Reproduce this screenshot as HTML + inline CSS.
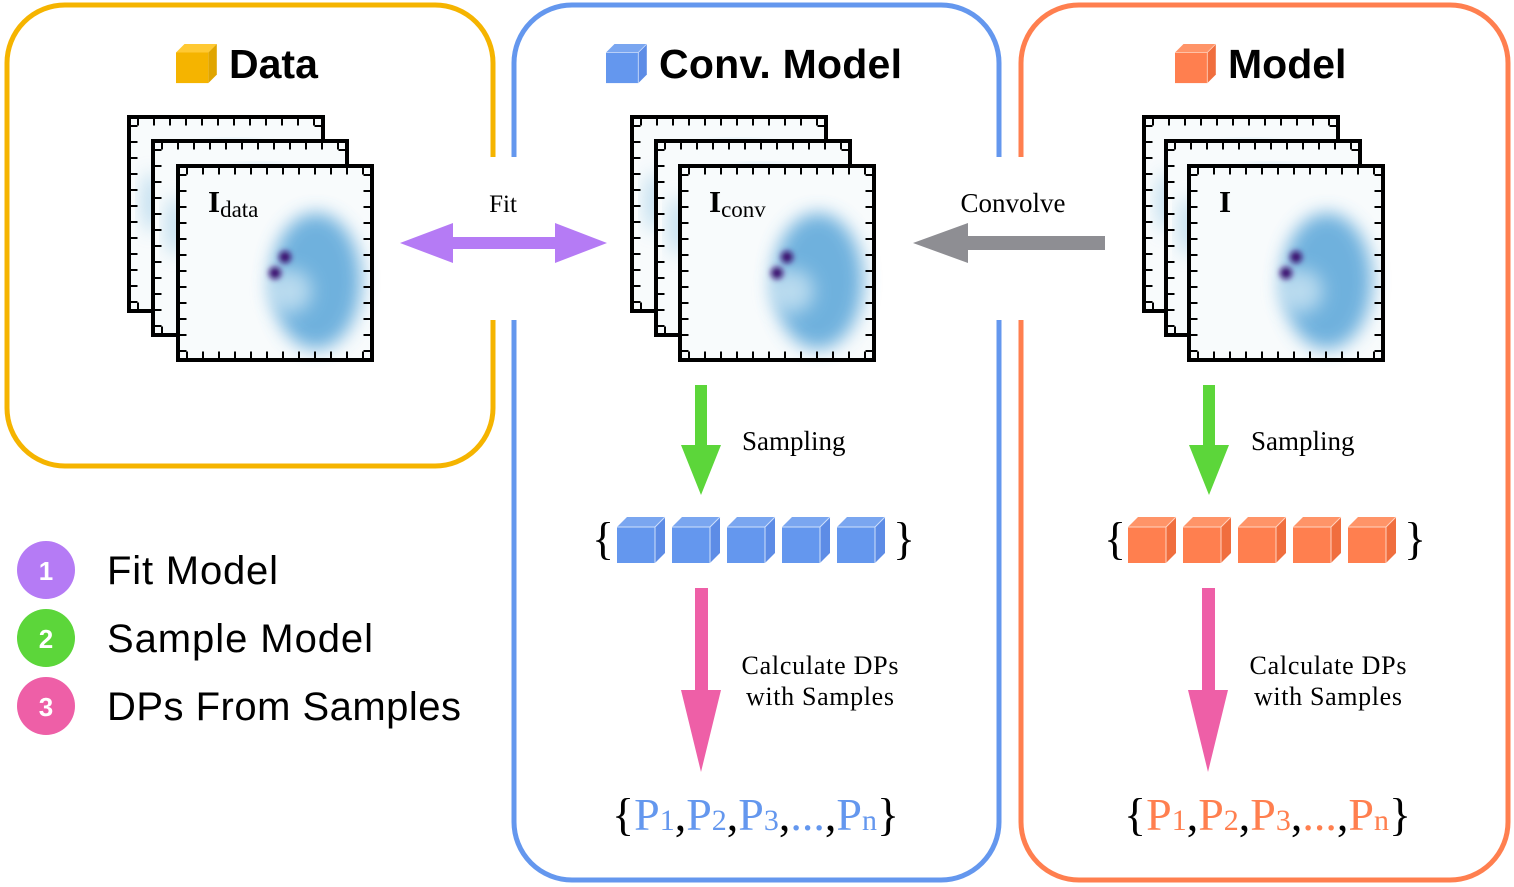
<!DOCTYPE html>
<html><head><meta charset="utf-8"><style>
body{margin:0;background:#fff}
svg{display:block}
.s{font-family:"Liberation Serif",serif}
.a{font-family:"Liberation Sans",sans-serif}
</style></head><body>
<svg width="1514" height="887" viewBox="0 0 1514 887" xmlns="http://www.w3.org/2000/svg">
<defs>
<filter id="bl" x="-50%" y="-50%" width="200%" height="200%"><feGaussianBlur stdDeviation="9"/></filter>
<filter id="bl2" x="-50%" y="-50%" width="200%" height="200%"><feGaussianBlur stdDeviation="3"/></filter>
<g id="ticks">
<rect x="0" y="0" width="194" height="194" fill="none" stroke="#000" stroke-width="4"/>
<line x1="8" y1="5" x2="194" y2="5" stroke="#000" stroke-width="7" stroke-dasharray="2 14"/>
<line x1="8" y1="189" x2="194" y2="189" stroke="#000" stroke-width="7" stroke-dasharray="2 14"/>
<line x1="5" y1="8" x2="5" y2="194" stroke="#000" stroke-width="7" stroke-dasharray="2 14"/>
<line x1="189" y1="8" x2="189" y2="194" stroke="#000" stroke-width="7" stroke-dasharray="2 14"/>
</g>
<g id="back">
<rect x="0" y="0" width="194" height="194" fill="#f8fbfc"/>
<ellipse cx="105" cy="40" rx="30" ry="10" fill="#8cc3e3" opacity="0.6" filter="url(#bl)"/>
<ellipse cx="22" cy="85" rx="8" ry="30" fill="#8cc3e3" opacity="0.6" filter="url(#bl)"/>
<use href="#ticks"/>
</g>
<g id="front">
<rect x="0" y="0" width="194" height="194" fill="#f8fbfc"/>
<ellipse cx="138" cy="115" rx="45" ry="68" fill="#4d9fd6" opacity="0.8" filter="url(#bl)"/>
<ellipse cx="112" cy="125" rx="22" ry="22" fill="#d8ecf6" opacity="0.7" filter="url(#bl)"/>
<circle cx="107" cy="91" r="6" fill="#3a0d6e" filter="url(#bl2)"/>
<circle cx="97" cy="107" r="6" fill="#3a0d6e" filter="url(#bl2)"/>
<use href="#ticks"/>
</g>
<g id="cb"><polygon points="0,10 10,0 48,0 38,10" fill="#7aa6f0"/><polygon points="38,10 48,0 48,36 38,46" fill="#5d8ce6"/><rect x="0" y="10" width="38" height="36" fill="#6497ee"/><path d="M0,10 L38,10 L38,46 M38,10 L48,0" stroke="#cfe0fb" stroke-width="1" fill="none"/></g>
<g id="co"><polygon points="0,10 10,0 48,0 38,10" fill="#ff9468"/><polygon points="38,10 48,0 48,36 38,46" fill="#f06e3e"/><rect x="0" y="10" width="38" height="36" fill="#ff7f4f"/><path d="M0,10 L38,10 L38,46 M38,10 L48,0" stroke="#ffd3c0" stroke-width="1" fill="none"/></g>
</defs>

<path d="M493,157 V63 A58,58 0 0 0 435,5 H65 A58,58 0 0 0 7,63 V408 A58,58 0 0 0 65,466 H435 A58,58 0 0 0 493,408 V320" fill="none" stroke="#f5b400" stroke-width="5"/>
<path d="M514,157 V63 A58,58 0 0 1 572,5 H941 A58,58 0 0 1 999,63 V157 M999,320 V822 A58,58 0 0 1 941,880 H572 A58,58 0 0 1 514,822 V320" fill="none" stroke="#6497ee" stroke-width="5"/>
<path d="M1021,157 V63 A58,58 0 0 1 1079,5 H1450 A58,58 0 0 1 1508,63 V822 A58,58 0 0 1 1450,880 H1079 A58,58 0 0 1 1021,822 V320" fill="none" stroke="#ff7f4f" stroke-width="5"/>

<g transform="translate(176,44) scale(0.85)"><polygon points="0,10 10,0 48,0 38,10" fill="#ffc933"/><polygon points="38,10 48,0 48,36 38,46" fill="#e0a500"/><rect x="0" y="10" width="38" height="36" fill="#f5b400"/></g>
<text x="229" y="78" class="a" font-size="41" font-weight="bold">Data</text>
<g transform="translate(606,44) scale(0.85)"><use href="#cb"/></g>
<text x="659" y="78" class="a" font-size="41" font-weight="bold" textLength="243">Conv. Model</text>
<g transform="translate(1175,44) scale(0.85)"><use href="#co"/></g>
<text x="1228" y="78" class="a" font-size="41" font-weight="bold">Model</text>

<use href="#back" x="129" y="117"/><use href="#back" x="153" y="141"/><use href="#front" x="178" y="166"/>
<text x="208" y="212" class="s" font-size="31" font-weight="bold">I<tspan font-size="23" font-weight="normal" dy="5">data</tspan></text>
<use href="#back" x="632" y="117"/><use href="#back" x="656" y="141"/><use href="#front" x="680" y="166"/>
<text x="709" y="212" class="s" font-size="31" font-weight="bold">I<tspan font-size="23" font-weight="normal" dy="5">conv</tspan></text>
<use href="#back" x="1144" y="117"/><use href="#back" x="1166" y="141"/><use href="#front" x="1189" y="166"/>
<text x="1219" y="212" class="s" font-size="31" font-weight="bold">I</text>

<polygon points="400,243 453,223 453,237 555,237 555,223 607,243 555,263 555,249 453,249 453,263" fill="#b57bf5"/>
<text x="503" y="212" class="s" font-size="25" text-anchor="middle">Fit</text>
<polygon points="913,243 968,223 968,236 1105,236 1105,250 968,250 968,263" fill="#8e8e93"/>
<text x="1013" y="212" class="s" font-size="27" text-anchor="middle">Convolve</text>

<polygon points="695,385 707,385 707,445 721,445 701,495 681,445 695,445" fill="#5cd63a"/>
<polygon points="1203,385 1215,385 1215,445 1229,445 1209,495 1189,445 1203,445" fill="#5cd63a"/>
<text x="742" y="450" class="s" font-size="27">Sampling</text>
<text x="1251" y="450" class="s" font-size="27">Sampling</text>

<text x="592" y="554" class="s" font-size="46">{</text>
<use href="#cb" x="617" y="517"/><use href="#cb" x="672" y="517"/><use href="#cb" x="727" y="517"/><use href="#cb" x="782" y="517"/><use href="#cb" x="837" y="517"/>
<text x="893" y="554" class="s" font-size="46">}</text>
<text x="1104" y="554" class="s" font-size="46">{</text>
<use href="#co" x="1128" y="517"/><use href="#co" x="1183" y="517"/><use href="#co" x="1238" y="517"/><use href="#co" x="1293" y="517"/><use href="#co" x="1348" y="517"/>
<text x="1404" y="554" class="s" font-size="46">}</text>

<polygon points="695,588 708,588 708,690 721,690 701,772 681,690 695,690" fill="#ee5fa7"/>
<polygon points="1202,588 1215,588 1215,690 1228,690 1208,772 1188,690 1202,690" fill="#ee5fa7"/>
<text x="820" y="674" class="s" font-size="26" text-anchor="middle" textLength="157">Calculate DPs</text>
<text x="820" y="705" class="s" font-size="26" text-anchor="middle" textLength="148">with Samples</text>
<text x="1328" y="674" class="s" font-size="26" text-anchor="middle" textLength="157">Calculate DPs</text>
<text x="1328" y="705" class="s" font-size="26" text-anchor="middle" textLength="148">with Samples</text>

<text x="612" y="830" class="s" font-size="46">{<tspan fill="#6497ee">P<tspan font-size="30">1</tspan><tspan fill="#000">,</tspan>P<tspan font-size="30">2</tspan><tspan fill="#000">,</tspan>P<tspan font-size="30">3</tspan><tspan fill="#000">,</tspan>...<tspan fill="#000">,</tspan>P<tspan font-size="30">n</tspan></tspan>}</text>
<text x="1124" y="830" class="s" font-size="46">{<tspan fill="#ff7f4f">P<tspan font-size="30">1</tspan><tspan fill="#000">,</tspan>P<tspan font-size="30">2</tspan><tspan fill="#000">,</tspan>P<tspan font-size="30">3</tspan><tspan fill="#000">,</tspan>...<tspan fill="#000">,</tspan>P<tspan font-size="30">n</tspan></tspan>}</text>

<circle cx="46" cy="570" r="29" fill="#b57bf5"/><text x="46" y="580" class="a" font-size="26" font-weight="bold" fill="#fff" text-anchor="middle">1</text>
<circle cx="46" cy="638" r="29" fill="#5cd63a"/><text x="46" y="648" class="a" font-size="26" font-weight="bold" fill="#fff" text-anchor="middle">2</text>
<circle cx="46" cy="706" r="29" fill="#ee5fa7"/><text x="46" y="716" class="a" font-size="26" font-weight="bold" fill="#fff" text-anchor="middle">3</text>
<text x="107" y="584" class="a" font-size="40" textLength="171">Fit Model</text>
<text x="107" y="652" class="a" font-size="40" textLength="266">Sample Model</text>
<text x="107" y="720" class="a" font-size="40" textLength="354">DPs From Samples</text>
</svg>
</body></html>
